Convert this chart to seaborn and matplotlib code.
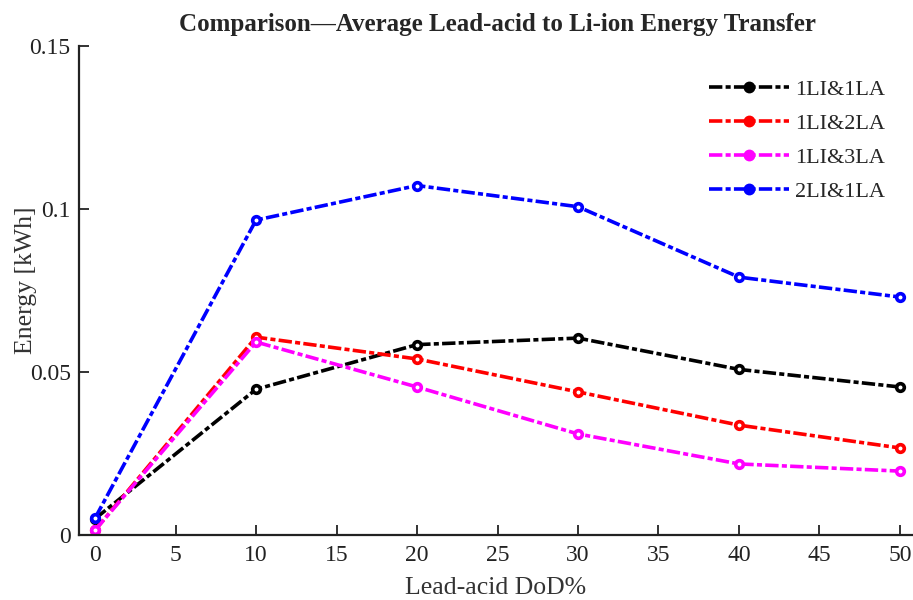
import matplotlib
matplotlib.use("Agg")
import matplotlib.pyplot as plt
import seaborn as sns
import pandas as pd

dod = [0, 10, 20, 30, 40, 50]
s_1li1la = [0.0050, 0.0447, 0.0584, 0.0604, 0.0508, 0.0454]
s_1li2la = [0.0015, 0.0607, 0.0540, 0.0439, 0.0337, 0.0267]
s_1li3la = [0.0015, 0.0592, 0.0454, 0.0310, 0.0218, 0.0196]
s_2li1la = [0.0052, 0.0966, 0.1072, 0.1007, 0.0791, 0.0730]
series_names = ["1LI&1LA", "1LI&2LA", "1LI&3LA", "2LI&1LA"]
colors = ["black", "red", "magenta", "blue"]

rows = []
for name, vals in zip(series_names, [s_1li1la, s_1li2la, s_1li3la, s_2li1la]):
    for x, y in zip(dod, vals):
        rows.append({"DoD": x, "Energy": y, "Config": name})
df = pd.DataFrame(rows)

sns.set_theme(style="ticks")
plt.rcParams["font.family"] = ["Liberation Serif", "DejaVu Serif"]

fig = plt.figure(figsize=(9.13, 6.0), dpi=100)
ax = fig.add_axes([79/913, 1-535/600, (912-79)/913, (535-46)/600])

dash = (3.7, 0.9, 1.4, 0.9)
palette = dict(zip(series_names, colors))
sns.lineplot(data=df, x="DoD", y="Energy", hue="Config", style="Config",
             palette=palette,
             dashes={n: dash for n in series_names},
             markers={n: "o" for n in series_names},
             linewidth=2.6, ax=ax, legend=True)

for line in ax.get_lines():
    c = line.get_color()
    line.set_markeredgecolor(c)
    line.set_markerfacecolor("white")
    line.set_markersize(5.5)
    line.set_markeredgewidth(2.6)

ax.set_xlim(-1, 50.75)
ax.set_ylim(0, 0.15)
ax.set_xticks(range(0, 51, 5))
ax.set_yticks([0, 0.05, 0.1, 0.15])
ax.set_yticklabels(["0", "0.05", "0.1", "0.15"])
ax.tick_params(direction="in", length=7, width=1.3, labelsize=17, colors="#222222")
ax.tick_params(axis="x", pad=7)
ax.tick_params(axis="y", pad=6)
for s in ["top", "right"]:
    ax.spines[s].set_visible(False)
for s in ["left", "bottom"]:
    ax.spines[s].set_linewidth(1.6)
    ax.spines[s].set_color("#222222")
ax.set_xlabel("Lead-acid DoD%", fontsize=18.5, color="#333333", labelpad=8)
ax.set_ylabel("Energy [kWh]", fontsize=18.5, color="#333333")
ax.yaxis.set_label_coords(-0.051, 0.521)
fig.suptitle("Comparison\u2014Average Lead-acid to Li-ion Energy Transfer",
             fontsize=18, fontweight="bold", x=497/913, y=0.978, va="top")

handles, labels = ax.get_legend_handles_labels()
for h in handles:
    c = h.get_color()
    h.set_markerfacecolor(c)
    h.set_markeredgecolor(c)
    h.set_markersize(7)
    h.set_markeredgewidth(1.5)
leg = ax.legend(handles, labels, loc="upper right", bbox_to_anchor=(0.992, 0.972),
                frameon=False, fontsize=16, handlelength=3.6, handletextpad=0.3,
                labelspacing=0.6)

fig.savefig("out.png", dpi=100)
